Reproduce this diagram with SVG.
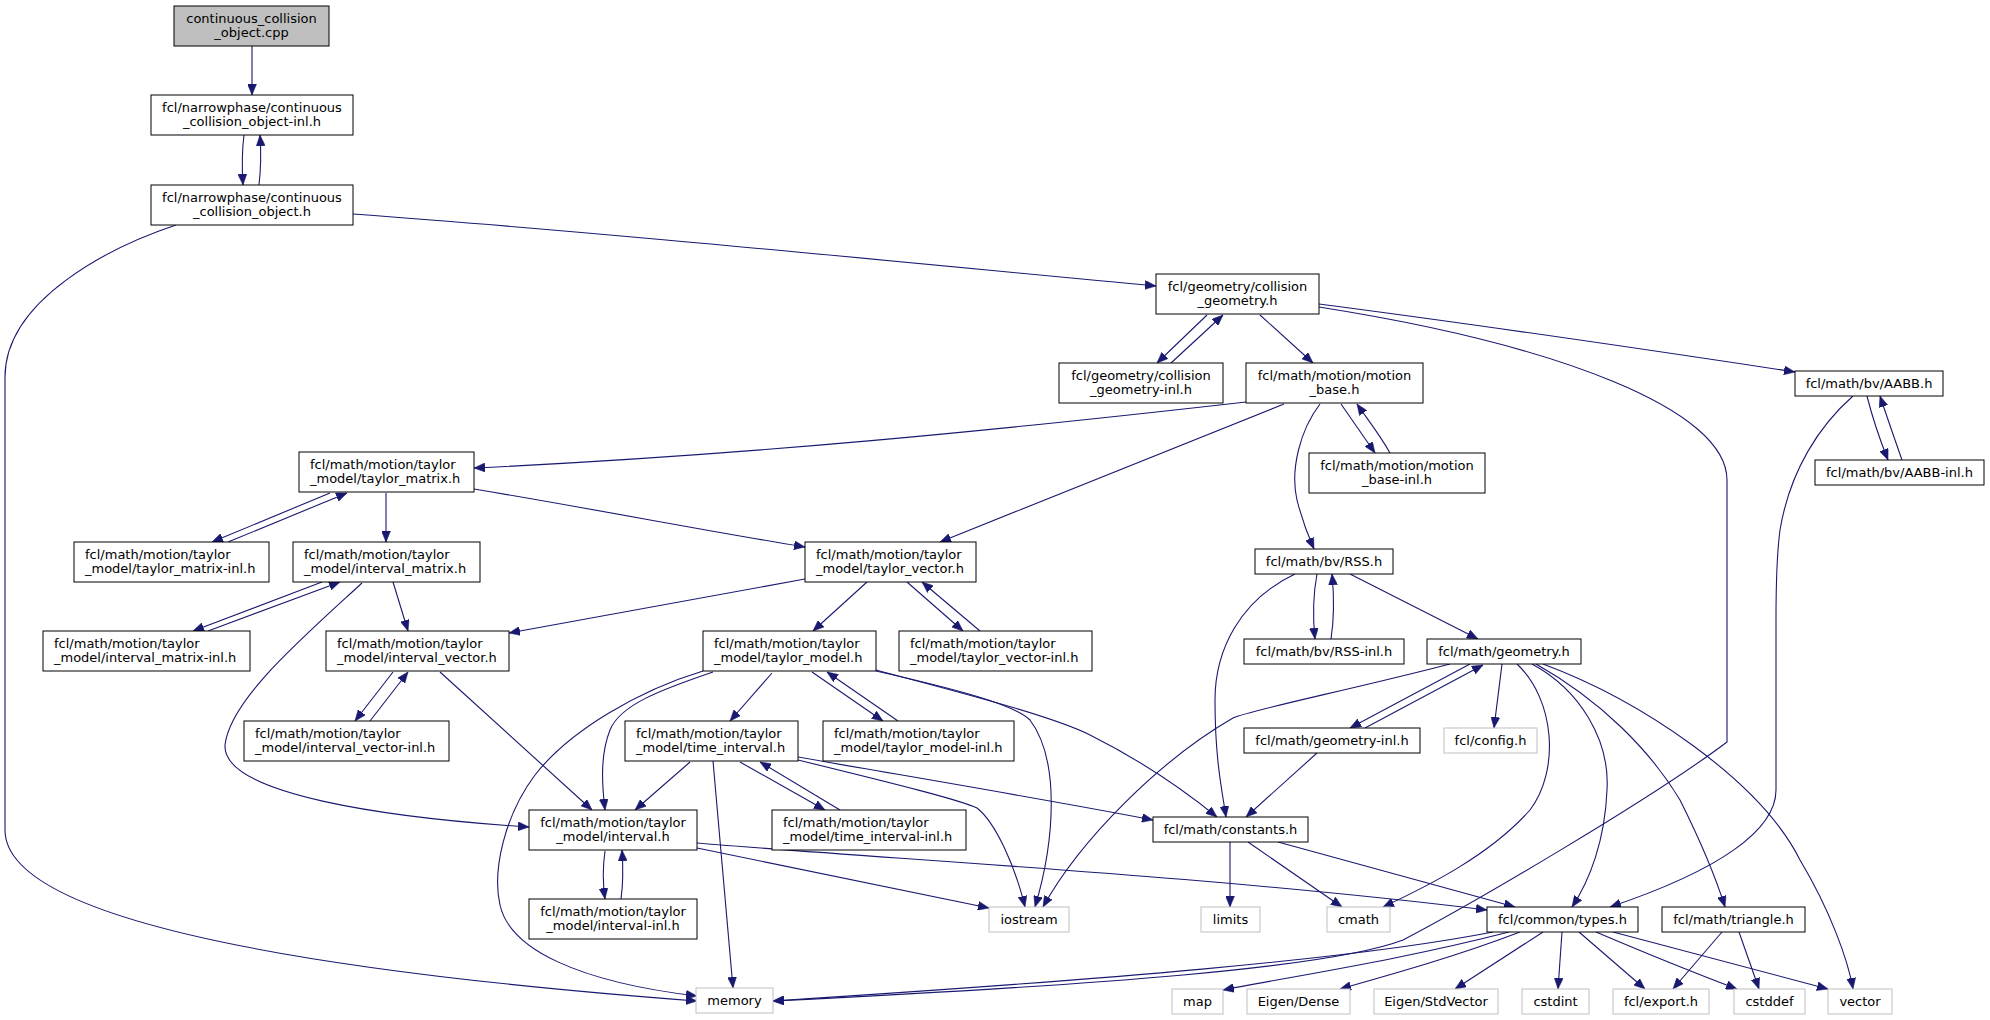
<svg xmlns="http://www.w3.org/2000/svg" width="1990" height="1020" viewBox="0 0 1990 1020">
<style>
rect{stroke-width:1}
.n rect{fill:#fff;stroke:#000}
.x rect{fill:#fff;stroke:#bfbfbf}
.r rect{fill:#bfbfbf;stroke:#000}
text{font-family:"DejaVu Sans",sans-serif;font-size:13px;fill:#000}
.c{text-anchor:middle}
#edges path{fill:none;stroke:#191970;stroke-width:1.1;marker-end:url(#arr)}
</style>
<defs>
<marker id="arr" viewBox="0 0 11 9" markerWidth="11" markerHeight="9" refX="11" refY="4.5" orient="auto" markerUnits="userSpaceOnUse">
<path d="M0,0 L11,4.5 L0,9 z" fill="#191970" stroke="#191970" stroke-width="0.5"/>
</marker>
</defs>
<rect width="1990" height="1020" fill="#fff"/>
<g id="edges">
<path d="M252,46 L252,95"/>
<path d="M244,135 C242,150 242,168 243,185"/>
<path d="M259,185 C261,168 261,150 260,135"/>
<path d="M176,225 C110,247 5,300 5,377 L5,830 C5,935 420,980 697,1001"/>
<path d="M353,214 C600,232 900,262 1156,286"/>
<path d="M1207,315 L1157,363"/>
<path d="M1171,363 L1223,315"/>
<path d="M1260,315 L1313,363"/>
<path d="M1319,304 C1480,325 1650,350 1795,372"/>
<path d="M1319,307 C1560,345 1727,410 1727,480 L1727,742 C1650,800 1470,905 1403,940 C1330,968 1100,985 773,1001"/>
<path d="M1341,404 L1375,453"/>
<path d="M1390,453 C1380,435 1368,420 1357,404"/>
<path d="M1246,402 C1000,430 750,455 474,468"/>
<path d="M1284,404 L940,542"/>
<path d="M1320,404 C1300,430 1290,470 1297,500 C1302,520 1310,540 1314,549"/>
<path d="M330,493 L212,542"/>
<path d="M228,542 L347,493"/>
<path d="M386,493 L386,542"/>
<path d="M474,489 C600,510 700,530 805,547"/>
<path d="M322,582 L193,631"/>
<path d="M208,631 L340,582"/>
<path d="M393,582 L408,631"/>
<path d="M362,583 C300,640 230,700 225,745 C222,795 390,818 529,827"/>
<path d="M393,672 L355,721"/>
<path d="M370,721 L408,672"/>
<path d="M440,672 L592,810"/>
<path d="M805,579 L509,633"/>
<path d="M867,582 L813,631"/>
<path d="M907,582 L963,631"/>
<path d="M980,631 L922,582"/>
<path d="M713,672 C660,690 620,705 610,730 C600,755 602,785 605,810"/>
<path d="M703,671 C640,690 570,730 535,775 C505,815 492,870 500,905 C510,950 580,982 697,996"/>
<path d="M772,673 L730,721"/>
<path d="M812,672 L883,721"/>
<path d="M898,721 L827,672"/>
<path d="M876,670 C950,690 1050,715 1090,735 C1150,765 1190,795 1217,817"/>
<path d="M876,671 C960,690 1015,705 1030,720 C1060,760 1055,840 1035,907"/>
<path d="M798,760 C900,785 960,800 977,808 C995,822 1015,865 1025,907"/>
<path d="M798,757 C900,775 1050,800 1153,820"/>
<path d="M713,761 L733,988"/>
<path d="M690,762 L635,810"/>
<path d="M740,762 L825,810"/>
<path d="M840,810 L760,762"/>
<path d="M605,851 C603,865 603,885 605,899"/>
<path d="M621,899 C623,885 623,865 622,850"/>
<path d="M697,843 C900,860 1200,875 1487,910"/>
<path d="M697,848 C800,870 900,890 989,908"/>
<path d="M1317,574 C1313,595 1313,620 1315,639"/>
<path d="M1331,639 C1334,620 1334,595 1332,574"/>
<path d="M1295,574 C1240,600 1215,650 1215,700 C1215,760 1222,790 1226,817"/>
<path d="M1350,574 L1478,639"/>
<path d="M1470,664 L1350,728"/>
<path d="M1365,728 L1483,665"/>
<path d="M1450,664 C1350,690 1250,710 1233,718 C1160,760 1080,840 1043,907"/>
<path d="M1502,664 L1494,728"/>
<path d="M1517,664 C1555,700 1560,770 1530,810 C1490,855 1430,885 1383,907"/>
<path d="M1532,664 C1580,690 1610,740 1607,790 C1605,840 1590,880 1572,907"/>
<path d="M1536,664 C1600,700 1650,750 1680,800 C1700,840 1715,875 1725,907"/>
<path d="M1543,664 C1640,700 1760,780 1800,860 C1830,910 1848,960 1853,989"/>
<path d="M1853,396 C1820,425 1790,470 1780,530 C1776,560 1776,600 1776,620 L1776,790 C1776,830 1720,870 1610,907"/>
<path d="M1867,396 C1873,420 1880,440 1888,460"/>
<path d="M1902,460 C1895,440 1888,420 1880,396"/>
<path d="M1317,753 L1246,817"/>
<path d="M1230,842 L1230,907"/>
<path d="M1248,842 L1342,907"/>
<path d="M1278,842 L1515,907"/>
<path d="M1493,932 C1350,960 1100,980 773,1001"/>
<path d="M1509,932 C1400,960 1300,975 1223,990"/>
<path d="M1520,932 C1460,955 1400,972 1340,989"/>
<path d="M1543,932 L1455,989"/>
<path d="M1562,932 L1558,989"/>
<path d="M1579,932 L1645,989"/>
<path d="M1596,932 C1650,955 1700,975 1737,989"/>
<path d="M1613,932 L1828,989"/>
<path d="M1722,932 L1673,989"/>
<path d="M1739,932 L1759,989"/>
</g>
<g id="root" class="r"><rect x="174" y="6" width="155" height="40"/><text class="c" x="251.5" y="22.5">continuous_collision</text><text class="c" x="251.5" y="37">_object.cpp</text></g>
<g id="cco_inl" class="n"><rect x="151" y="95" width="202" height="40"/><text class="c" x="252" y="111.5">fcl/narrowphase/continuous</text><text class="c" x="252" y="126">_collision_object-inl.h</text></g>
<g id="cco_h" class="n"><rect x="151" y="185" width="202" height="40"/><text class="c" x="252" y="201.5">fcl/narrowphase/continuous</text><text class="c" x="252" y="216">_collision_object.h</text></g>
<g id="cg_h" class="n"><rect x="1156" y="274" width="163" height="40"/><text class="c" x="1237.5" y="290.5">fcl/geometry/collision</text><text class="c" x="1237.5" y="305">_geometry.h</text></g>
<g id="cg_inl" class="n"><rect x="1059" y="363" width="164" height="40"/><text class="c" x="1141" y="379.5">fcl/geometry/collision</text><text class="c" x="1141" y="394">_geometry-inl.h</text></g>
<g id="mb_h" class="n"><rect x="1246" y="363" width="177" height="40"/><text class="c" x="1334.5" y="379.5">fcl/math/motion/motion</text><text class="c" x="1334.5" y="394">_base.h</text></g>
<g id="aabb_h" class="n"><rect x="1795" y="371" width="148" height="25"/><text class="c" x="1869" y="388">fcl/math/bv/AABB.h</text></g>
<g id="aabb_inl" class="n"><rect x="1815" y="460" width="169" height="25"/><text class="c" x="1899.5" y="477">fcl/math/bv/AABB-inl.h</text></g>
<g id="mb_inl" class="n"><rect x="1309" y="453" width="176" height="40"/><text class="c" x="1397" y="469.5">fcl/math/motion/motion</text><text class="c" x="1397" y="484">_base-inl.h</text></g>
<g id="tm_h" class="n"><rect x="299" y="452" width="175" height="40"/><text x="310" y="468.5">fcl/math/motion/taylor</text><text x="310" y="483">_model/taylor_matrix.h</text></g>
<g id="tm_inl" class="n"><rect x="74" y="542" width="195" height="40"/><text x="85" y="558.5">fcl/math/motion/taylor</text><text x="85" y="573">_model/taylor_matrix-inl.h</text></g>
<g id="im_h" class="n"><rect x="293" y="542" width="187" height="40"/><text x="304" y="558.5">fcl/math/motion/taylor</text><text x="304" y="573">_model/interval_matrix.h</text></g>
<g id="tv_h" class="n"><rect x="805" y="542" width="171" height="40"/><text x="816" y="558.5">fcl/math/motion/taylor</text><text x="816" y="573">_model/taylor_vector.h</text></g>
<g id="tv_inl" class="n"><rect x="899" y="631" width="193" height="40"/><text x="910" y="647.5">fcl/math/motion/taylor</text><text x="910" y="662">_model/taylor_vector-inl.h</text></g>
<g id="rss_h" class="n"><rect x="1255" y="549" width="138" height="25"/><text class="c" x="1324" y="566">fcl/math/bv/RSS.h</text></g>
<g id="rss_inl" class="n"><rect x="1244" y="639" width="160" height="25"/><text class="c" x="1324" y="656">fcl/math/bv/RSS-inl.h</text></g>
<g id="geom_h" class="n"><rect x="1427" y="639" width="154" height="25"/><text class="c" x="1504" y="656">fcl/math/geometry.h</text></g>
<g id="im_inl" class="n"><rect x="43" y="631" width="207" height="40"/><text x="54" y="647.5">fcl/math/motion/taylor</text><text x="54" y="662">_model/interval_matrix-inl.h</text></g>
<g id="iv_h" class="n"><rect x="326" y="631" width="183" height="40"/><text x="337" y="647.5">fcl/math/motion/taylor</text><text x="337" y="662">_model/interval_vector.h</text></g>
<g id="iv_inl" class="n"><rect x="244" y="721" width="205" height="40"/><text x="255" y="737.5">fcl/math/motion/taylor</text><text x="255" y="752">_model/interval_vector-inl.h</text></g>
<g id="tmod_h" class="n"><rect x="703" y="631" width="173" height="40"/><text x="714" y="647.5">fcl/math/motion/taylor</text><text x="714" y="662">_model/taylor_model.h</text></g>
<g id="tmod_inl" class="n"><rect x="823" y="721" width="191" height="40"/><text x="834" y="737.5">fcl/math/motion/taylor</text><text x="834" y="752">_model/taylor_model-inl.h</text></g>
<g id="ti_h" class="n"><rect x="625" y="721" width="173" height="40"/><text x="636" y="737.5">fcl/math/motion/taylor</text><text x="636" y="752">_model/time_interval.h</text></g>
<g id="ti_inl" class="n"><rect x="772" y="810" width="194" height="40"/><text x="783" y="826.5">fcl/math/motion/taylor</text><text x="783" y="841">_model/time_interval-inl.h</text></g>
<g id="int_h" class="n"><rect x="529" y="810" width="168" height="40"/><text class="c" x="613" y="826.5">fcl/math/motion/taylor</text><text class="c" x="613" y="841">_model/interval.h</text></g>
<g id="int_inl" class="n"><rect x="529" y="899" width="168" height="40"/><text class="c" x="613" y="915.5">fcl/math/motion/taylor</text><text class="c" x="613" y="930">_model/interval-inl.h</text></g>
<g id="memory" class="x"><rect x="696" y="988" width="77" height="25"/><text class="c" x="734.5" y="1005">memory</text></g>
<g id="iostream" class="x"><rect x="989" y="907" width="80" height="25"/><text class="c" x="1029" y="924">iostream</text></g>
<g id="constants" class="n"><rect x="1153" y="817" width="155" height="25"/><text class="c" x="1230.5" y="834">fcl/math/constants.h</text></g>
<g id="limits" class="x"><rect x="1201" y="907" width="59" height="25"/><text class="c" x="1230.5" y="924">limits</text></g>
<g id="cmath" class="x"><rect x="1327" y="907" width="63" height="25"/><text class="c" x="1358.5" y="924">cmath</text></g>
<g id="geom_inl" class="n"><rect x="1244" y="728" width="176" height="25"/><text class="c" x="1332" y="745">fcl/math/geometry-inl.h</text></g>
<g id="config" class="x"><rect x="1444" y="728" width="93" height="25"/><text class="c" x="1490.5" y="745">fcl/config.h</text></g>
<g id="types" class="n"><rect x="1487" y="907" width="151" height="25"/><text class="c" x="1562.5" y="924">fcl/common/types.h</text></g>
<g id="triangle" class="n"><rect x="1662" y="907" width="143" height="25"/><text class="c" x="1733.5" y="924">fcl/math/triangle.h</text></g>
<g id="map" class="x"><rect x="1172" y="989" width="51" height="25"/><text class="c" x="1197.5" y="1006">map</text></g>
<g id="eigen_dense" class="x"><rect x="1247" y="989" width="103" height="25"/><text class="c" x="1298.5" y="1006">Eigen/Dense</text></g>
<g id="eigen_stdvector" class="x"><rect x="1374" y="989" width="124" height="25"/><text class="c" x="1436" y="1006">Eigen/StdVector</text></g>
<g id="cstdint" class="x"><rect x="1522" y="989" width="67" height="25"/><text class="c" x="1555.5" y="1006">cstdint</text></g>
<g id="export" class="x"><rect x="1613" y="989" width="96" height="25"/><text class="c" x="1661" y="1006">fcl/export.h</text></g>
<g id="cstddef" class="x"><rect x="1734" y="989" width="71" height="25"/><text class="c" x="1769.5" y="1006">cstddef</text></g>
<g id="vector" class="x"><rect x="1828" y="989" width="64" height="25"/><text class="c" x="1860" y="1006">vector</text></g>
</svg>
